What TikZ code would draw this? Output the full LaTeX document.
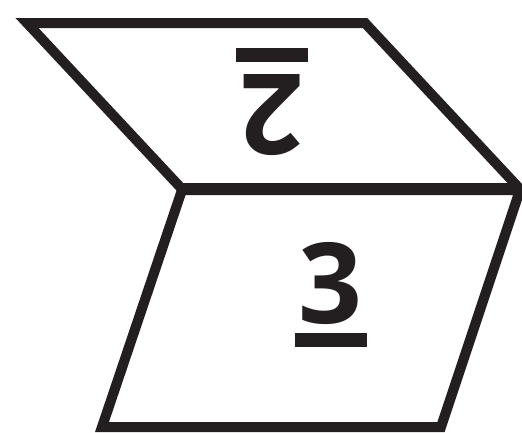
\documentclass[tikz,border=0pt]{standalone}
\usepackage{fontspec}
\setmainfont{Open Sans}
\definecolor{ink}{HTML}{231F20}
\begin{document}
\begin{tikzpicture}[x=1pt,y=-1pt,line join=miter,
  face/.style={draw=ink,line width=10pt,fill=white},
  digit/.style={text=ink,inner sep=0pt,font=\fontsize{112}{112}\selectfont\bfseries},
  bar/.style={fill=ink}]
\useasboundingbox (0,0) rectangle (522,432);

% Lower face.
\draw[face] (182,190) -- (520,190) -- (441,427) -- (102,427) -- cycle;
% Upper face, folded back over the hinge.
\draw[face] (27,23) -- (365,23) -- (519,188) -- (181,188) -- cycle;

\node[digit] (three) at (330,283) {3};
\fill[bar] (295,333) rectangle (367,347);

\node[digit,rotate=180] (two) at (273,115) {2};
\fill[bar] (236,48) rectangle (308,62);
\end{tikzpicture}
\end{document}
